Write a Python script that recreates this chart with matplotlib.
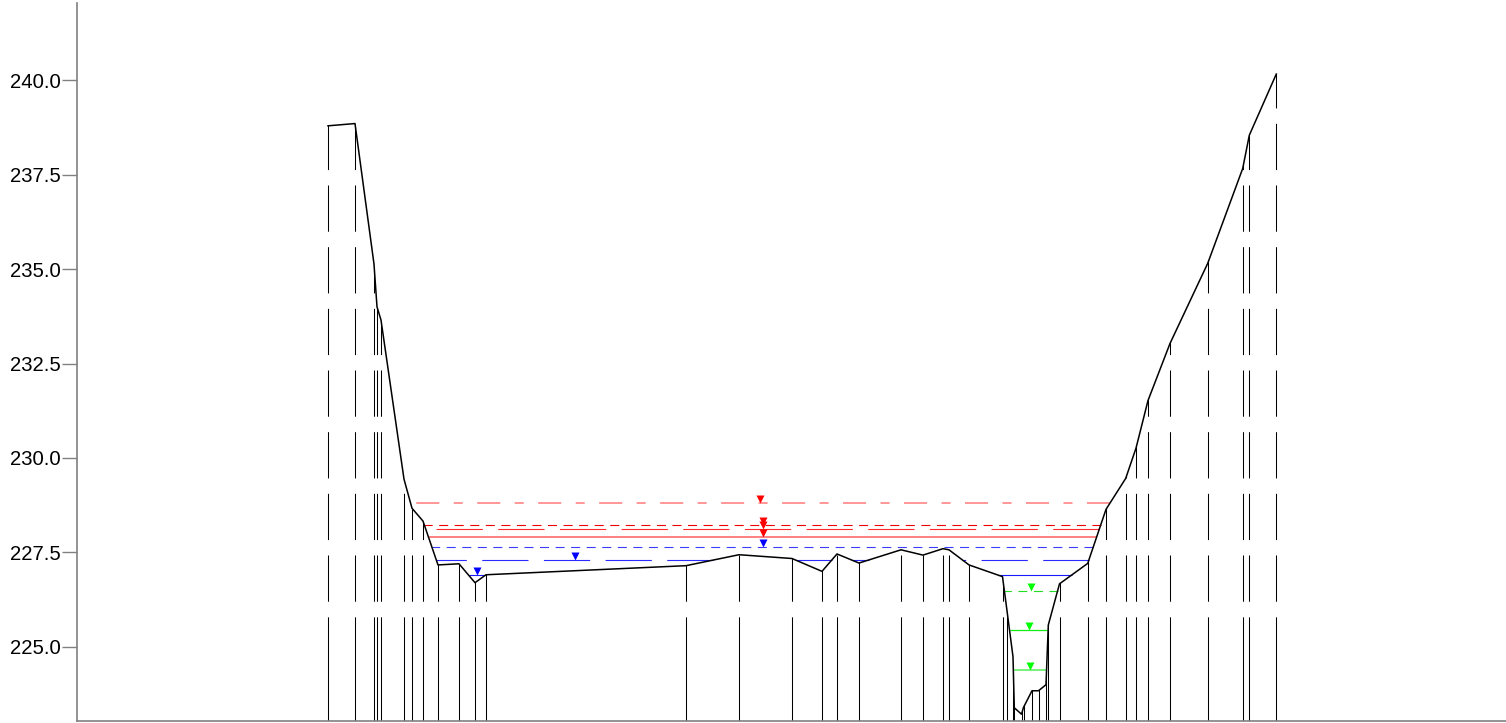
import matplotlib
matplotlib.use("Agg")
import matplotlib.pyplot as plt
import numpy as np
from matplotlib.collections import LineCollection
from matplotlib.patches import Polygon
from matplotlib.path import Path

plt.rcParams["font.family"] = ["Liberation Sans", "DejaVu Sans"]
plt.rcParams["lines.scale_dashes"] = False

# --- cross-section survey points (station m, elevation m) ---
station = [25.1, 27.8, 29.7, 30.0, 30.4, 32.7, 33.5, 34.6, 36.1, 38.2, 39.8, 40.9,
           60.9, 66.2, 71.5, 74.5, 76.0, 78.2, 82.4, 84.6, 86.6, 87.2, 89.2,
           92.55, 92.95, 93.6, 93.73, 94.45, 94.65, 95.5, 96.15, 96.9, 97.13,
           98.25, 101.07, 102.9, 104.87, 105.9, 107.1, 109.3, 113.07, 116.57,
           117.23, 119.93]
elevation = [238.79, 238.85, 235.13, 234.00, 233.65, 229.44, 228.67, 228.33, 227.17,
             227.20, 226.70, 226.91, 227.15, 227.44, 227.34, 227.00, 227.46, 227.22,
             227.57, 227.43, 227.60, 227.57, 227.17, 226.86, 226.06, 224.74, 223.39,
             223.22, 223.40, 223.84, 223.84, 224.00, 225.58, 226.67, 227.21, 228.64,
             229.46, 230.26, 231.52, 233.03, 235.15, 237.66, 238.54, 240.16]

# water surface levels (m)
wse_levels = [228.82, 228.22, 228.11, 227.92, 227.65, 227.30, 226.90, 226.48, 225.44, 224.39]

y_ticks = [225.0, 227.5, 230.0, 232.5, 235.0, 237.5, 240.0]

# styles for each water level: (line color, width, dashes, marker color)
LONG = (0, (33.3, 11.1))
SHORT = (0, (6.5, 4.7))
DASHDOT = (0, (16.6, 10.4, 6.5, 10.4))
wse_styles = [
    ("#ff7a7a", 1.1, DASHDOT, "#ff0000"),
    ("#ee0000", 0.8, SHORT, "#ff0000"),
    ("#ff2a2a", 0.8, LONG, "#ff0000"),
    ("#ff8080", 1.4, "-", "#ff0000"),
    ("#3c3cff", 0.8, SHORT, "#0000ff"),
    ("#2a2aff", 0.8, LONG, "#0000ff"),
    ("#1a1aff", 0.8, "-", "#0000ff"),
    ("#22dd22", 0.8, SHORT, "#00ff00"),
    ("#11ee11", 0.9, "-", "#00ff00"),
    ("#55ee55", 1.1, "-", "#00ff00"),
]


def wet_segments(x, z, level):
    """Tramos donde el nivel de agua queda por encima del terreno."""
    segs = []
    start = None
    for i in range(len(x) - 1):
        x0, x1, z0, z1 = x[i], x[i + 1], z[i], z[i + 1]
        if z0 >= level > z1:
            start = x0 + (z0 - level) / (z0 - z1) * (x1 - x0)
        elif z0 < level <= z1 and start is not None:
            end = x0 + (level - z0) / (z1 - z0) * (x1 - x0)
            segs.append((start, end))
            start = None
    return segs


W, H = 1506, 723
fig = plt.figure(figsize=(W / 100, H / 100), dpi=100)
ax = fig.add_axes([77 / W, 2 / H, 1429 / W, 718 / H])
ax.set_xlim(0, 142.9)
ax.set_ylim(223.04, 242.04)

# --- vertical station lines, clipped below ground ---
x = np.array(station)
z = np.array(elevation)
clip_verts = ([(x[0] - 1, 200), (x[0] - 1, z[0])] + list(zip(x, z))
              + [(x[-1] + 1, z[-1]), (x[-1] + 1, 200)])
clip_poly = Polygon(clip_verts, closed=True, transform=ax.transData)

dash_top = 242.12
dash_break = 225.80
dashed = LineCollection([[(xi, dash_top), (xi, dash_break)] for xi in x],
                        colors="black", linewidths=0.75, linestyles=[(0, (33.3, 11.1))],
                        zorder=1)
solid = LineCollection([[(xi, dash_break), (xi, 222.0)] for xi in x],
                       colors="black", linewidths=0.75, zorder=1)
for lc in (dashed, solid):
    ax.add_collection(lc)
    lc.set_clip_path(clip_poly)

# --- water surfaces ---
tri = Path([(0, 0), (-0.5, 1), (0.5, 1), (0, 0)])
for lvl, (col, lw, ls, mcol) in zip(wse_levels, wse_styles):
    segs = wet_segments(x, z, lvl)
    for s, e in segs:
        ax.plot([e, s], [lvl, lvl], color=col, lw=lw, linestyle=ls,
                solid_capstyle="butt", dash_capstyle="butt", zorder=2)
    if segs:
        s, e = segs[0]
        ax.plot([(s + e) / 2], [lvl], marker=tri, markersize=11.5, color=mcol,
                markeredgewidth=0, linestyle="none", zorder=4)

# --- ground line ---
ax.plot(x, z, color="black", lw=1.1, zorder=3)

# --- axes styling ---
for side in ("top", "right"):
    ax.spines[side].set_visible(False)
for side in ("left", "bottom"):
    ax.spines[side].set_color("#808080")
    ax.spines[side].set_linewidth(1.2)
ax.set_xticks([])
ax.set_yticks(y_ticks)
ax.set_yticklabels([f"{v:.1f}" for v in y_ticks])
ax.tick_params(axis="y", length=10.8, width=1.0, color="#808080",
               labelsize=14.6, labelcolor="black", pad=0.7)

fig.savefig("out.png", dpi=100)
